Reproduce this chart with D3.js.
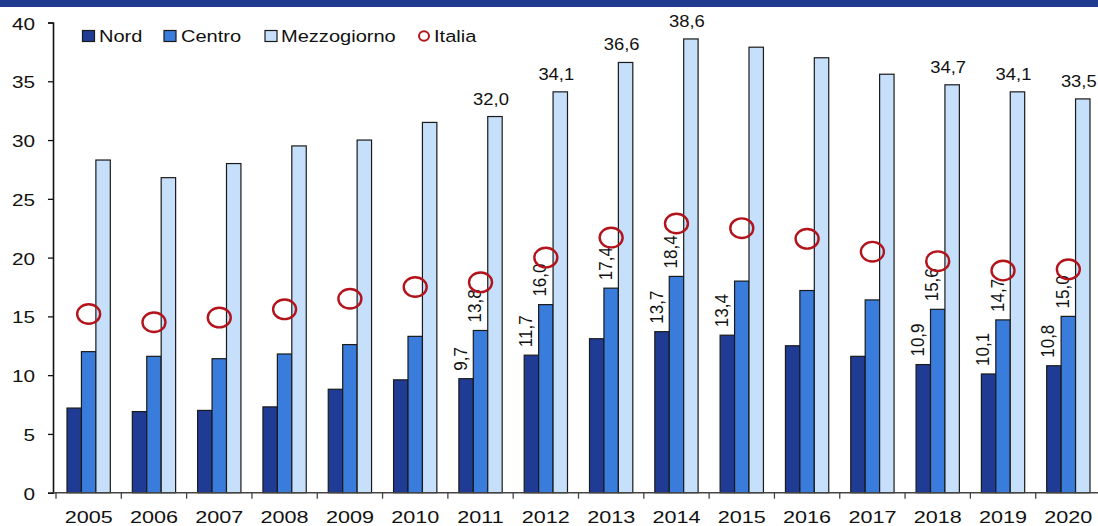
<!DOCTYPE html>
<html>
<head>
<meta charset="utf-8">
<script src="https://cdn.jsdelivr.net/npm/d3@7"></script>
<style>
  html, body { margin: 0; padding: 0; background: #fff; }
  svg { display: block; }
  text { font-family: "Liberation Sans", Arial, sans-serif; fill: #111; }
</style>
</head>
<body>
<svg id="chart" width="1098" height="526"></svg>
<script>
// ---- data ----
const years = [2005, 2006, 2007, 2008, 2009, 2010, 2011, 2012, 2013, 2014, 2015, 2016, 2017, 2018, 2019, 2020];
const nord = [7.2, 6.9, 7.0, 7.3, 8.8, 9.6, 9.7, 11.7, 13.1, 13.7, 13.4, 12.5, 11.6, 10.9, 10.1, 10.8];
const centro = [12.0, 11.6, 11.4, 11.8, 12.6, 13.3, 13.8, 16.0, 17.4, 18.4, 18.0, 17.2, 16.4, 15.6, 14.7, 15.0];
const mezzogiorno = [28.3, 26.8, 28.0, 29.5, 30.0, 31.5, 32.0, 34.1, 36.6, 38.6, 37.9, 37.0, 35.6, 34.7, 34.1, 33.5];
const italia = [15.2, 14.5, 14.9, 15.6, 16.5, 17.5, 17.9, 20.0, 21.7, 22.9, 22.5, 21.6, 20.5, 19.7, 18.9, 19.0];
const seriesNames = ["Nord", "Centro", "Mezzogiorno"];
const yTicks = [0, 5, 10, 15, 20, 25, 30, 35, 40];
// years whose values carry a data label
const nordLabelYears = [2011, 2012, 2014, 2015, 2018, 2019, 2020];
const centroLabelYears = [2011, 2012, 2013, 2014, 2018, 2019, 2020];
const mezzLabelYears = [2011, 2012, 2013, 2014, 2018, 2019, 2020];

// ---- styles ----
const colors = { Nord: "#203b94", Centro: "#3a7cdb", Mezzogiorno: "#c6e0fb" };
const italiaColor = "#b3141c";
const fmt = d3.formatLocale({ decimal: ",", thousands: ".", grouping: [3], currency: ["", "€"] }).format(".1f");

const svg = d3.select("#chart");

// header band
svg.append("rect").attr("x", 0).attr("y", 0).attr("width", 1098).attr("height", 7).attr("fill", "#1f3a8f");

const x = d3.scaleBand().domain(years).range([56, 1101]).paddingInner(0.337).paddingOuter(0.337 / 2);
const xs = d3.scaleBand().domain(seriesNames).range([0, x.bandwidth()]);
const y = d3.scaleLinear().domain([0, 40]).range([492.7, 22.5]);

const seriesData = { Nord: nord, Centro: centro, Mezzogiorno: mezzogiorno };

// bars
seriesNames.forEach(name => {
  svg.append("g").selectAll("rect")
    .data(years.map((yr, i) => ({ yr, v: seriesData[name][i] })))
    .join("rect")
    .attr("x", d => x(d.yr) + xs(name))
    .attr("y", d => y(d.v))
    .attr("width", xs.bandwidth())
    .attr("height", d => y(0) - y(d.v))
    .attr("fill", colors[name])
    .attr("stroke", "#1a1a1a")
    .attr("stroke-width", 1.2);
});

// y axis
const yAxis = svg.append("g").attr("transform", "translate(53,0)")
  .call(d3.axisLeft(y).tickValues(yTicks).tickSize(5).tickFormat(d3.format("d")));
yAxis.select(".domain").attr("stroke", "#111").attr("stroke-width", 1.6);
yAxis.selectAll(".tick line").attr("stroke", "#111").attr("stroke-width", 1.3);
yAxis.selectAll(".tick text")
  .attr("x", null).attr("dy", null)
  .attr("transform", "translate(-18,6.5) scale(1.22,1)")
  .attr("text-anchor", "end")
  .style("font-size", "17px").style("font-family", "'Liberation Sans', Arial, sans-serif").attr("fill", "#111");

// x axis
const xAxis = svg.append("g").attr("transform", `translate(0,${y(0)})`)
  .call(d3.axisBottom(x).tickSize(0));
xAxis.select(".domain").remove();
xAxis.append("line").attr("x1", 53).attr("x2", 1098).attr("y1", 0).attr("y2", 0)
  .attr("stroke", "#444").attr("stroke-width", 1.6);
const step = x.step();
const boundaries = d3.range(years.length + 1).map(i => x(years[0]) - step * x.paddingInner() / 2 + i * step);
xAxis.selectAll(".bound").data(boundaries).join("line").attr("class", "bound")
  .attr("x1", d => d).attr("x2", d => d).attr("y1", 0).attr("y2", 6)
  .attr("stroke", "#444").attr("stroke-width", 1.3);
xAxis.selectAll(".tick text")
  .attr("y", null).attr("dy", null)
  .attr("transform", "translate(0,30) scale(1.27,1)")
  .attr("text-anchor", "middle")
  .style("font-size", "17px").style("font-family", "'Liberation Sans', Arial, sans-serif").attr("fill", "#111");

// rotated data labels (Nord, Centro)
function rotLabels(name, values, labelYears) {
  svg.append("g").selectAll("text")
    .data(labelYears.map(yr => ({ yr, v: values[years.indexOf(yr)] })))
    .join("text")
    .attr("transform", d => `translate(${x(d.yr) + xs(name) + xs.bandwidth() / 2 + 0.5},${y(d.v) - 8}) rotate(-90) scale(1,1.1)`)
    .attr("text-anchor", "start")
    .style("font-size", "17px")
    .text(d => fmt(d.v));
}
rotLabels("Nord", nord, nordLabelYears);
rotLabels("Centro", centro, centroLabelYears);

// horizontal labels Mezzogiorno
svg.append("g").selectAll("text")
  .data(mezzLabelYears.map(yr => ({ yr, v: mezzogiorno[years.indexOf(yr)] })))
  .join("text")
  .attr("transform", d => `translate(${x(d.yr) + xs("Mezzogiorno") + xs.bandwidth() / 2 - 4},${y(d.v) - 12}) scale(1.15,1)`)
  .attr("text-anchor", "middle")
  .style("font-size", "16px")
  .text(d => fmt(d.v));

// Italia markers
svg.append("g").selectAll("ellipse")
  .data(years.map((yr, i) => ({ yr, v: italia[i] })))
  .join("ellipse")
  .attr("cx", d => x(d.yr) + x.bandwidth() / 2)
  .attr("cy", d => y(d.v))
  .attr("rx", 11.5).attr("ry", 9.8)
  .attr("fill", "none").attr("stroke", italiaColor).attr("stroke-width", 2.4);

// legend
const legendItems = [
  { name: "Nord", sx: 82.5, tx: 99 },
  { name: "Centro", sx: 164, tx: 181 },
  { name: "Mezzogiorno", sx: 265, tx: 281 },
  { name: "Italia", sx: 418, tx: 434 }
];
const lg = svg.append("g");
legendItems.forEach(it => {
  if (it.name === "Italia") {
    lg.append("ellipse").attr("cx", it.sx + 6).attr("cy", 36).attr("rx", 5).attr("ry", 4.8)
      .attr("fill", "none").attr("stroke", italiaColor).attr("stroke-width", 2);
  } else {
    lg.append("rect").attr("x", it.sx).attr("y", 30.5).attr("width", 12).attr("height", 11)
      .attr("fill", colors[it.name]).attr("stroke", "#1a1a1a").attr("stroke-width", 1.2);
  }
  lg.append("text").attr("transform", `translate(${it.tx},42) scale(1.18,1)`)
    .style("font-size", "17px").text(it.name);
});
</script>
</body>
</html>
